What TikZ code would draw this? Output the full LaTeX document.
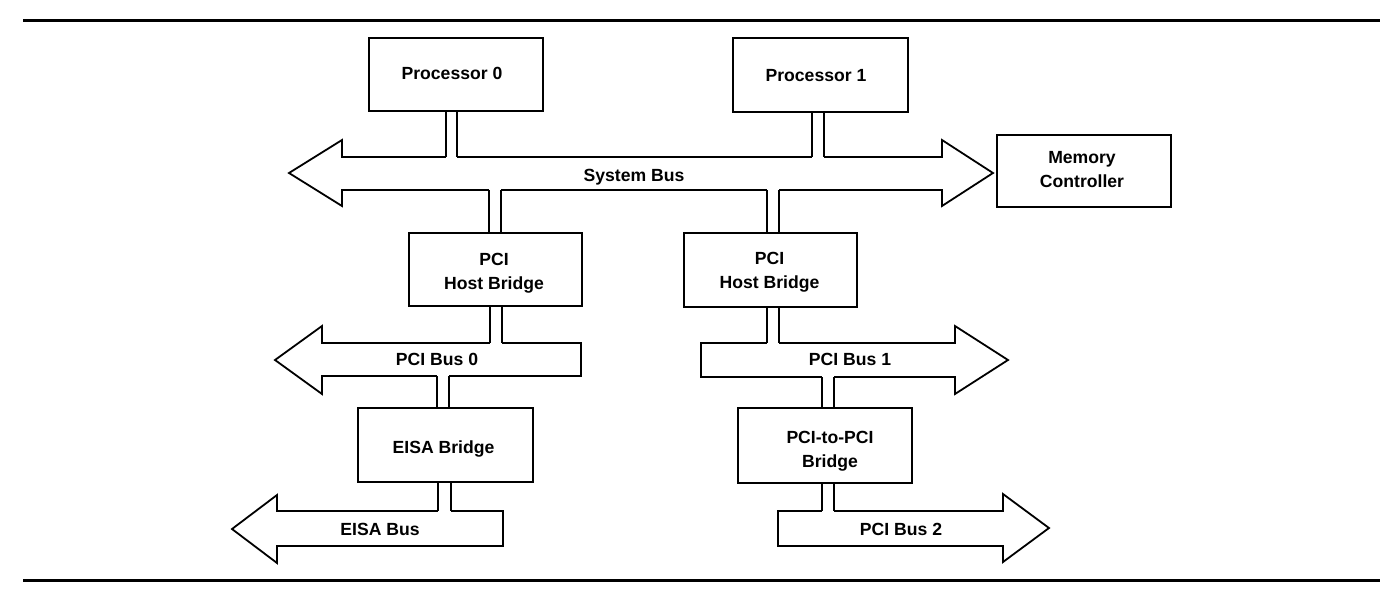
\documentclass[tikz,border=0pt]{standalone}
\usepackage{fontspec}
\setmainfont{Liberation Sans}
\begin{document}
\begin{tikzpicture}[x=1pt,y=-1pt,
  box/.style={draw,line width=2.2pt,rectangle,inner sep=0pt},
  txt/.style={inner sep=0pt,anchor=base,align=center,
    font=\fontsize{17.6}{24}\selectfont\bfseries},
  busline/.style={line width=1.8pt,line join=miter},
  connline/.style={line width=1.8pt},
  rule/.style={line width=3pt}]
\useasboundingbox (0,0) rectangle (1390,598);
% rules
\coordinate (rtl) at (23,20); \coordinate (rtr) at (1380,20);
\coordinate (rbl) at (23,580); \coordinate (rbr) at (1380,580);
\draw[rule] (rtl) -- (rtr);
\draw[rule] (rbl) -- (rbr);
% buses
\draw[busline] (289,173) -- (342,140) -- (342,157) -- (942,157) -- (942,140) -- (993,173)
  -- (942,206) -- (942,190) -- (342,190) -- (342,206) -- cycle;
\draw[busline] (275,360) -- (322,326) -- (322,343) -- (581,343) -- (581,376) -- (322,376) -- (322,394) -- cycle;
\draw[busline] (232,529) -- (277,495) -- (277,511) -- (503,511) -- (503,546) -- (277,546) -- (277,563) -- cycle;
\draw[busline] (1008,360) -- (955,326) -- (955,343) -- (701,343) -- (701,377) -- (955,377) -- (955,394) -- cycle;
\draw[busline] (1049,528) -- (1003,494) -- (1003,511) -- (778,511) -- (778,546) -- (1003,546) -- (1003,562) -- cycle;
% bus labels
\node[txt] (lsys) at (634,181) {System Bus};
\node[txt] (lpci0) at (437,365) {PCI Bus 0};
\node[txt] (leisa) at (380,535) {EISA Bus};
\node[txt] (lpci1) at (850,365) {PCI Bus 1};
\node[txt] (lpci2) at (901,535) {PCI Bus 2};
% boxes
\node[box,minimum width=174pt,minimum height=73pt] (p0) at (456,74.5) {};
\node[box,minimum width=175pt,minimum height=74pt] (p1) at (820.5,75) {};
\node[box,minimum width=174pt,minimum height=72pt] (mc) at (1084,171) {};
\node[box,minimum width=173pt,minimum height=73pt] (hb0) at (495.5,269.5) {};
\node[box,minimum width=173pt,minimum height=74pt] (hb1) at (770.5,270) {};
\node[box,minimum width=175pt,minimum height=74pt] (eisa) at (445.5,445) {};
\node[box,minimum width=174pt,minimum height=75pt] (p2p) at (825,445.5) {};
% box texts (baseline of last line)
\node[txt] (tp0) at (452,79.5) {Processor 0};
\node[txt] (tp1) at (816,81) {Processor 1};
\node[txt] (tmc) at (1082,187) {Memory\\Controller};
\node[txt] (thb0) at (494,289) {PCI\\Host Bridge};
\node[txt] (thb1) at (769.5,288) {PCI\\Host Bridge};
\node[txt] (teisa) at (443.5,453) {EISA Bridge};
\node[txt] (tp2p) at (830,467) {PCI-to-PCI\\Bridge};
% connectors: #1 anchor, #2 x1, #3 x2, #4 y on bus, #5 y of cover beyond bus line
\newcommand\myconn[5]{%
  \fill[white] (#1 -| #2,0) rectangle (#3,#5);
  \draw[connline] (#1 -| #2,0) -- (#2,#4);
  \draw[connline] (#1 -| #3,0) -- (#3,#4);}
\myconn{p0.south}{446}{457}{157}{159}
\myconn{p1.south}{812}{824}{157}{159}
\myconn{hb0.north}{489}{501}{190}{188}
\myconn{hb1.north}{767}{779}{190}{188}
\myconn{hb0.south}{490}{502}{343}{345}
\myconn{eisa.north}{437}{449}{376}{374}
\myconn{eisa.south}{438}{451}{511}{513}
\myconn{hb1.south}{767}{779}{343}{345}
\myconn{p2p.north}{822}{834}{377}{375}
\myconn{p2p.south}{822}{834}{511}{513}
\end{tikzpicture}
\end{document}
